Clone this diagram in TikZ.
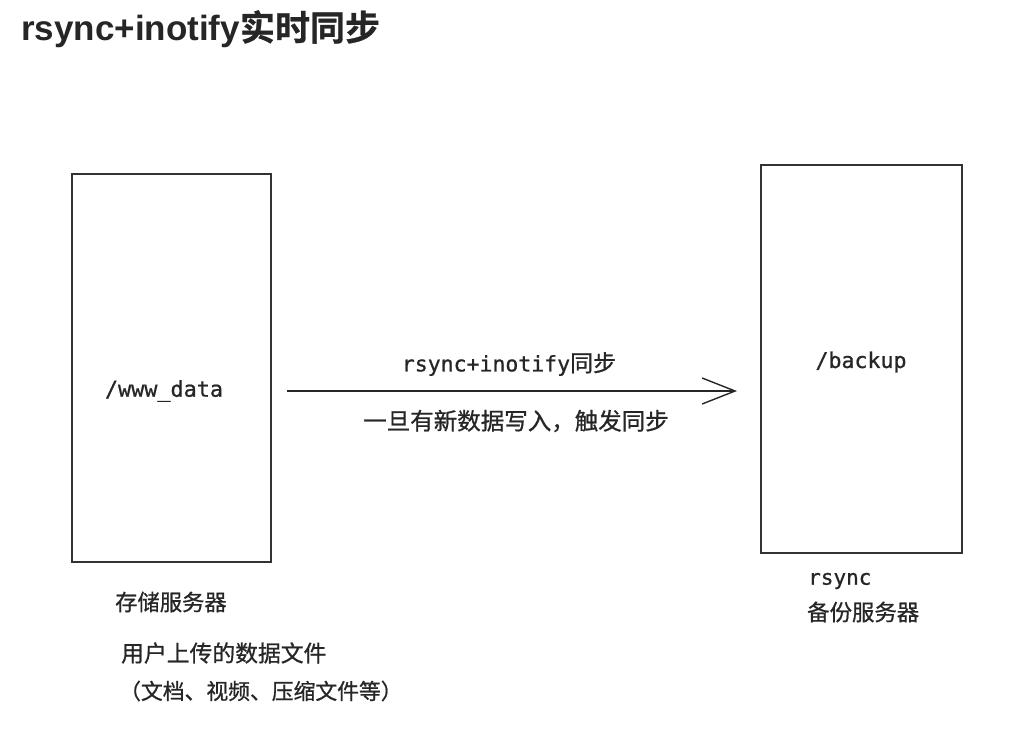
\documentclass[tikz,border=0pt]{standalone}
\usepackage{fontspec}
\setsansfont{Liberation Sans}
\setmonofont{DejaVu Sans Mono}[FakeBold=0.8]
\newfontfamily\cjk{Noto Sans CJK SC}[FakeBold=0.8,BoldFont={Noto Sans CJK SC Bold}]
\usepackage{tikz}
\usetikzlibrary{arrows.meta}
\tikzstyle{server} = [draw=black!80, line width=1.6pt, inner sep=0pt]
\tikzstyle{line} = [draw=black!85, line width=1.4pt, -{Straight Barb[length=33pt,width=26pt,line width=1.4pt]}]
\tikzstyle{label} = [inner sep=0pt, text=black!85]

\begin{document}
\begin{tikzpicture}[x=1pt,y=-1pt]
	\useasboundingbox (0,0) rectangle (1024,739);
	\fill[white] (0,0) rectangle (1024,739);
	
	% ------------------- Title ------------------- %
	\node[label, anchor=west, font=\fontsize{35}{40}\selectfont\bfseries] (title) at (21,29)
		{{\sffamily rsync+inotify}{\cjk 实时同步}};
	
	% ------------------- Servers ------------------- %
	\draw[server] (72,174) rectangle (271,562);
	\node[label, font=\fontsize{21.8}{26}\selectfont\ttfamily] (wwwdata) at (164,391) {/www\_data};
	
	\draw[server] (761,165) rectangle (962,553);
	\node[label, font=\fontsize{21.6}{26}\selectfont\ttfamily] (backup) at (861,362) {/backup};
	
	% ------------------- Arrow + text ------------------- %
	\coordinate (src) at (287,391);
	\coordinate (dst) at (737,391);
	\draw[line] (src) -- (dst);
	\node[label, font=\fontsize{21.5}{26}\selectfont] (synclabel) at (509,364)
		{{\ttfamily rsync+inotify}{\cjk\fontsize{23}{26}\selectfont 同步}};
	\node[label, font=\cjk\fontsize{23.5}{28}\selectfont] (trigger) at (516,421) {一旦有新数据写入，触发同步};
	
	% ------------------- Captions ------------------- %
	\node[label, anchor=west, font=\cjk\fontsize{22.3}{26}\selectfont] (storage) at (115,602) {存储服务器};
	\node[label, anchor=west, font=\cjk\fontsize{22.8}{26}\selectfont] (userdata) at (121,653) {用户上传的数据文件};
	\node[label, anchor=west, font=\cjk\fontsize{21.8}{26}\selectfont] (filetypes) at (119,691) {（文档、视频、压缩文件等）};
	
	\node[label, anchor=west, font=\fontsize{21}{26}\selectfont\ttfamily] (rsync) at (808,581) {rsync};
	\node[label, anchor=west, font=\cjk\fontsize{22.4}{26}\selectfont] (backupsrv) at (807,612) {备份服务器};
\end{tikzpicture}
\end{document}
